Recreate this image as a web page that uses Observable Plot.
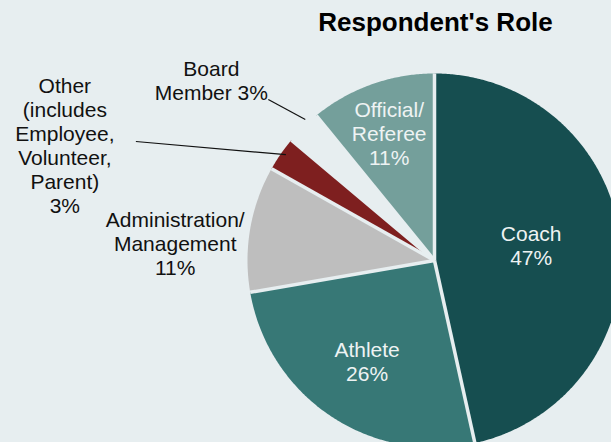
<!DOCTYPE html>
<html>
<head>
<meta charset="utf-8">
<script src="https://cdn.jsdelivr.net/npm/d3@7"></script>
<script src="https://cdn.jsdelivr.net/npm/@observablehq/plot@0.6"></script>
<style>
html, body { margin: 0; padding: 0; background: #e7eef0; width: 611px; height: 442px; overflow: hidden; font-family: "Liberation Sans", Arial, sans-serif; }
#title { position: absolute; left: 0; top: 0; width: 611px; height: 48px; }
#title div { position: absolute; left: 435.5px; top: 9px; transform: translateX(-50%); font-size: 26px; line-height: 26px; font-weight: bold; color: #000; white-space: nowrap; letter-spacing: 0px; }
#chart { position: absolute; left: 0; top: 48px; }
</style>
</head>
<body>
<div id="title"><div>Respondent's Role</div></div>
<div id="chart"></div>
<script>
// ---- data ----
const roles = ["Coach", "Athlete", "Administration/Management", "Other", "Board Member", "Official/Referee"];
const percents = [47, 26, 11, 3, 3, 11];
const labels = ["Coach\n47%", "Athlete\n26%", "Administration/\nManagement\n11%", "Other\n(includes\nEmployee,\nVolunteer,\nParent)\n3%", "Board\nMember 3%", "Official/\nReferee\n11%"];
const colors = ["#164e50", "#377876", "#bebebe", "#7e1f1f", "#e7eef0", "#749f9b"];

// ---- layout ----
const W = 611, H = 394;
const R = 187, CX = 434, CY = 212;
const BG = "#e7eef0";

const total = d3.sum(percents);
let acc = 0;
const slices = roles.map((role, i) => {
  const a0 = acc / total * 2 * Math.PI;
  acc += percents[i];
  const a1 = acc / total * 2 * Math.PI;
  return {role, value: percents[i], label: labels[i], a0, a1, mid: (a0 + a1) / 2};
});

// polygon points for each slice (angle clockwise from 12 o'clock)
const pts = [];
for (const s of slices) {
  pts.push({role: s.role, x: 0, y: 0});
  const n = Math.max(4, Math.ceil((s.a1 - s.a0) / (Math.PI / 360)));
  for (let k = 0; k <= n; k++) {
    const a = s.a0 + (s.a1 - s.a0) * k / n;
    pts.push({role: s.role, x: Math.sin(a), y: Math.cos(a)});
  }
}

// separators at slice boundaries
const seps = slices.map(s => ({x1: 0, y1: 0, x2: Math.sin(s.a0), y2: Math.cos(s.a0)}));

// inside labels
const insideLayout = {"Coach": {r: 0.52, dy: -5}, "Athlete": {r: 0.647, dy: 0}, "Official/Referee": {r: 0.722, dy: 0}};
const inside = slices.filter(s => insideLayout[s.role]).map(s => ({
  label: s.label,
  x: Math.sin(s.mid) * insideLayout[s.role].r,
  y: Math.cos(s.mid) * insideLayout[s.role].r + (-insideLayout[s.role].dy / R)
}));

// outside labels: offsets (px) from the slice's outer mid point
const outsideLayout = {
  "Administration/Management": {dx: -75, dy: 15},
  "Other": {dx: -216, dy: -9, lead: [-145, -12.4, 5, 0.8]},
  "Board Member": {dx: -92, dy: -46.5, lead: [-35, -27.7, 2, -7.7]}
};
const outside = slices.filter(s => outsideLayout[s.role]).map(s => {
  const L = outsideLayout[s.role];
  const ax = Math.sin(s.mid), ay = Math.cos(s.mid);
  return {label: s.label, x: ax + L.dx / R, y: ay - L.dy / R, lead: L.lead ? {
    x1: ax + L.lead[0] / R, y1: ay - L.lead[1] / R,
    x2: ax + L.lead[2] / R, y2: ay - L.lead[3] / R
  } : null};
});
const leaders = outside.filter(d => d.lead).map(d => d.lead);

const chart = Plot.plot({
  width: W,
  height: H,
  margin: 0,
  x: {type: "linear", domain: [-CX / R, (W - CX) / R], range: [0, W], axis: null},
  y: {type: "linear", domain: [-(H - CY) / R, CY / R], range: [H, 0], axis: null},
  color: {domain: roles, range: colors},
  style: {background: "transparent", overflow: "hidden", fontFamily: "Liberation Sans, Arial, sans-serif"},
  marks: [
    Plot.line(pts, {x: "x", y: "y", z: "role", fill: "role", stroke: "none", curve: "linear-closed"}),
    Plot.link(seps, {x1: "x1", y1: "y1", x2: "x2", y2: "y2", stroke: BG, strokeWidth: 3.5, strokeLinecap: "butt"}),
    Plot.link(leaders, {x1: "x1", y1: "y1", x2: "x2", y2: "y2", stroke: "#111", strokeWidth: 1.2}),
    Plot.text(inside, {x: "x", y: "y", text: "label", fill: "#eef3f3", fontSize: 21, lineHeight: 24 / 21, textAnchor: "middle"}),
    Plot.text(outside, {x: "x", y: "y", text: "label", fill: "#111", fontSize: 21, lineHeight: 24 / 21, textAnchor: "middle"})
  ]
});
document.getElementById("chart").appendChild(chart);
</script>
</body>
</html>
